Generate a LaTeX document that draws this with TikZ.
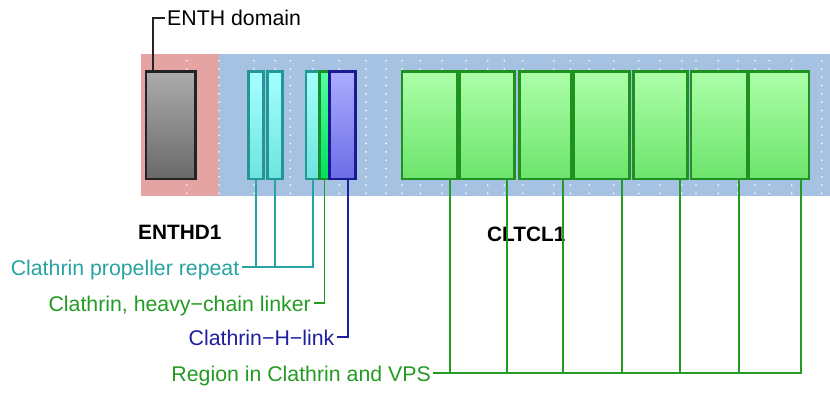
\documentclass[tikz,border=0pt]{standalone}
\usepackage{fontspec}
\setmainfont{Liberation Sans}
\definecolor{redbg}{RGB}{228,164,164}
\definecolor{bluebg}{RGB}{166,194,226}
\definecolor{tealc}{RGB}{40,163,163}
\definecolor{greenc}{RGB}{35,155,35}
\definecolor{bluec}{RGB}{30,30,160}
\definecolor{grayc}{RGB}{35,35,35}
\begin{document}
\begin{tikzpicture}[x=1pt,y=-1pt,
  dom/.style={anchor=north west,inner sep=0pt,outer sep=0pt,minimum height=107.5pt,line width=2.4pt},
  graybox/.style={dom,draw=grayc,top color={rgb,255:red,172;green,172;blue,172},bottom color={rgb,255:red,105;green,105;blue,105}},
  cyanbox/.style={dom,draw={rgb,255:red,35;green,150;blue,150},top color={rgb,255:red,165;green,255;blue,255},bottom color={rgb,255:red,110;green,228;blue,222}},
  linkbox/.style={dom,draw={rgb,255:red,20;green,145;blue,40},top color={rgb,255:red,85;green,255;blue,160},bottom color={rgb,255:red,0;green,225;blue,90}},
  bluebox/.style={dom,draw={rgb,255:red,25;green,25;blue,145},top color={rgb,255:red,172;green,172;blue,255},bottom color={rgb,255:red,108;green,108;blue,230}},
  greenbox/.style={dom,draw={rgb,255:red,30;green,145;blue,30},top color={rgb,255:red,172;green,255;blue,168},bottom color={rgb,255:red,108;green,228;blue,108}},
  lbl/.style={anchor=base east,inner sep=0pt,font=\fontsize{21.3}{25}\selectfont},
  gene/.style={anchor=base west,inner sep=0pt,font=\fontsize{20.8}{24}\selectfont\bfseries},
  conn/.style={line width=1.8pt}
]
\useasboundingbox (0,0) rectangle (830,398);
% background regions
\fill[redbg] (141,54) rectangle (219,196.5);
\fill[bluebg] (219,54) rectangle (830,196.5);
% dot grid
\foreach \x in {186.7,219,254,275.3,290.3,313,339.3,366,386,402,420.3,442,466,487.7,504.3,522.7,553.7,570.3,589.3,613.7,638.7,660,681.7,696,718.3,737.7,755,769.3,791.7,821.7}
  \foreach \k in {0,...,16}
    \fill[white] (\x,60.7+8.29*\k) circle (0.9pt);
% domain boxes
\node[graybox,minimum width=49.5pt] (enth) at (146,71.5) {};
\node[cyanbox,minimum width=15pt] (c1) at (248.5,71.5) {};
\node[cyanbox,minimum width=15pt] (c2) at (267.3,71.5) {};
\node[cyanbox,minimum width=13.6pt] (c3) at (305.8,71.5) {};
\node[linkbox,minimum width=10pt] (lk) at (319.4,71.5) {};
\node[bluebox,minimum width=26pt] (hl) at (329.6,71.5) {};
\node[greenbox,minimum width=54.5pt] (g1) at (402.2,71.5) {};
\node[greenbox,minimum width=55pt] (g2) at (459.6,71.5) {};
\node[greenbox,minimum width=51.5pt] (g3) at (519.5,71.5) {};
\node[greenbox,minimum width=56pt] (g4) at (573.6,71.5) {};
\node[greenbox,minimum width=53.8pt] (g5) at (633.6,71.5) {};
\node[greenbox,minimum width=55.8pt] (g6) at (690.9,71.5) {};
\node[greenbox,minimum width=59.8pt] (g7) at (748.9,71.5) {};
% gene names
\node[gene] (gA) at (138,240) {ENTHD1};
\node[gene] (gB) at (487,241.3) {CLTCL1};
% labels
\node[lbl,anchor=base west] (tEnth) at (167,26) {ENTH domain};
\node[lbl,text=tealc] (tProp) at (239.5,275.5) {Clathrin propeller repeat};
\node[lbl,text=greenc] (tLink) at (311,311) {Clathrin, heavy\char"2212 chain linker};
\node[lbl,text=bluec] (tHl) at (334.5,345.5) {Clathrin\char"2212 H\char"2212 link};
\node[lbl,text=greenc] (tReg) at (431,381.5) {Region in Clathrin and VPS};
% bus end coordinates
\coordinate (bEnth) at (164.5,18.3);
\coordinate (bProp) at (242.3,267.3);
\coordinate (bLink) at (314,303.3);
\coordinate (bHl) at (337.3,337.3);
\coordinate (bReg) at (433.3,373.3);
% connectors
\draw[conn,grayc] ([xshift=-17.5pt]enth.north) |- (bEnth);
\draw[conn,tealc] (c1.south) |- (bProp);
\draw[conn,tealc] (c2.south) |- (bProp);
\draw[conn,tealc] (c3.south) |- (bProp);
\draw[conn,greenc] (lk.south) |- (bLink);
\draw[conn,bluec] ([xshift=5.6pt]hl.south) |- (bHl);
\foreach \b/\s in {g1/20.2,g2/20,g3/18.1,g4/20.5,g5/19.5,g6/20.5,g7/22.2}
  \draw[conn,greenc] ([xshift=\s pt]\b.south) |- (bReg);
\end{tikzpicture}
\end{document}
